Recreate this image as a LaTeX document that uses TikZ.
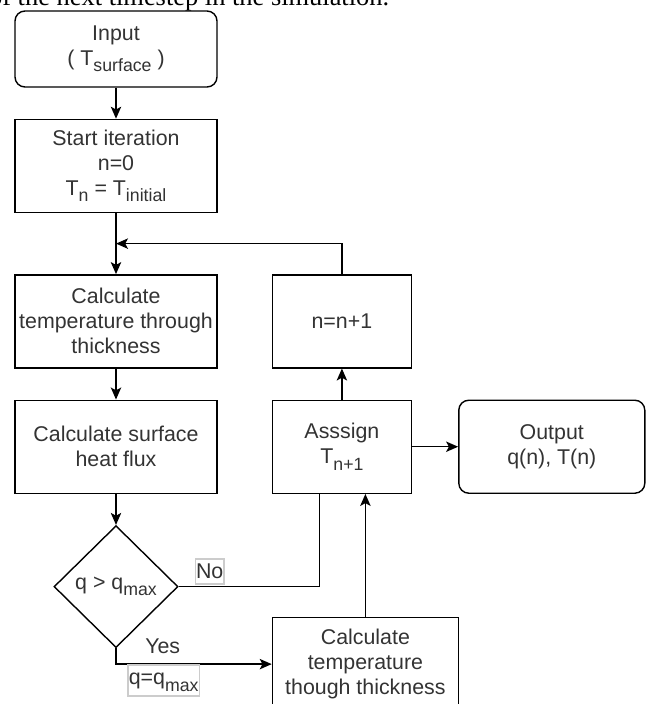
\documentclass[tikz,border=0pt]{standalone}
\usepackage{fontspec}
\setmainfont{Liberation Sans}
\newfontfamily\pagefont{Liberation Serif}
\usetikzlibrary{positioning, shapes.geometric, arrows.meta, calc}

\newcommand{\lowsub}[1]{\raisebox{-0.3em}{\fontsize{12.6}{14}\selectfont #1}}

\tikzset{
	box/.style={draw, rectangle, minimum width=5.05cm, minimum height=2.325cm,
		align=center, inner sep=1pt, text=black!80},
	rbox/.style={box, rounded corners=0.25cm},
	choice/.style={draw, diamond, minimum width=3.1cm, minimum height=3.05cm,
		inner sep=0pt, text=black!80},
	lbl/.style={draw=black!20, fill=white, inner sep=0.5pt, text height=0.48cm, text=black!80},
	arr/.style={-{Stealth[length=0.3cm, width=0.26cm, inset=0.07cm]}}
}

\begin{document}
\begin{tikzpicture}[node distance=0.775cm, line width=1pt,
	font=\fontsize{15.2}{17.8}\selectfont]
	\useasboundingbox (0,0) rectangle (16.275,-17.6);
	\node[anchor=base west, inner sep=0, font=\pagefont\fontsize{18.8}{22}\selectfont] (caption)
		at (-0.29,-0.125) {of the next timestep in the simulation.};
	\node (input) [rbox, minimum height=1.9cm] at (2.9,-1.225) {Input\\( T\lowsub{surface} )};
	\node (start) [box, below=of input] {Start iteration\\n=0\\T\lowsub{n} = T\lowsub{initial}};
	\node (calcT) [box, below=1.525cm of start] {Calculate\\temperature through\\thickness};
	\node (flux) [box, below=of calcT] {Calculate surface\\heat flux};
	\node (check) [choice, below=of flux] {q > q\lowsub{max}};
	\node (inc) [box, minimum width=3.475cm, right=1.35cm of calcT] {n=n+1};
	\node (assign) [box, minimum width=3.475cm, right=1.35cm of flux] {Asssign\\T\lowsub{n+1}};
	\node (output) [rbox, minimum width=4.65cm, right=1.15cm of assign] {Output\\q(n), T(n)};
	\node (calc2) [box, minimum width=4.65cm, below right=3.075cm and 0cm of assign.south west]
		{Calculate\\temperature\\though thickness};
	\coordinate (loop) at ($(start.south)!0.5!(calcT.north)$);

	\draw[arr] (input) -- (start);
	\draw[arr] (start) -- (calcT);
	\draw[arr] (calcT) -- (flux);
	\draw[arr] (flux) -- (check);
	\draw[arr] (inc.north) -- (inc.north |- loop) -- (loop);
	\draw[arr] (assign) -- (inc);
	\draw[arr] (assign) -- (output);
	\draw (check.east) -| node[lbl, text depth=0.11cm, pos=0.11, above=0.05cm] {No}
		([xshift=-0.5625cm]assign.south);
	\draw[arr] (check.south) |- node[pos=0.65, above=0.25cm, inner sep=0pt, text=black!80] {Yes}
		node[lbl, text depth=0.26cm, pos=0.653, below=0pt] {q=q\lowsub{max}} (calc2.west);
	\draw[arr] (calc2.north) -- (calc2.north |- assign.south);
\end{tikzpicture}
\end{document}
